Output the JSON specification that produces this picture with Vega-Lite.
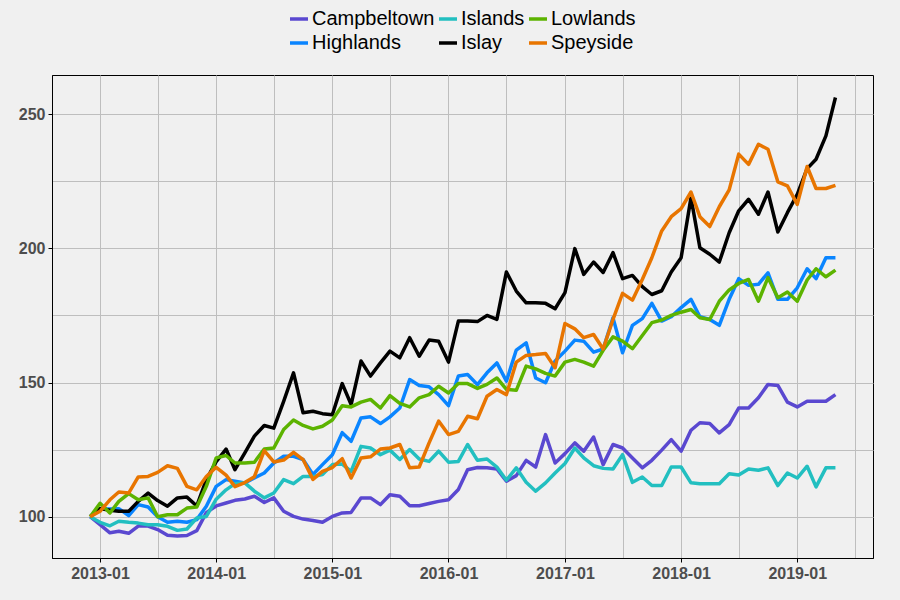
{
"$schema": "https://vega.github.io/schema/vega-lite/v6.json",
"width": 821, "height": 483,
"autosize": "none",
"padding": {"left": 52, "top": 75, "right": 27, "bottom": 42},
"background": "#F0F0F0",
"config": {"view": {"stroke": "black", "strokeWidth": 1, "fill": "#F0F0F0"}, "font": "Liberation Sans"},
"data": {"values": [
{"date":"2012-12","region":"Campbeltown","value":100},{"date":"2013-01","region":"Campbeltown","value":97},{"date":"2013-02","region":"Campbeltown","value":94},{"date":"2013-03","region":"Campbeltown","value":94.6},{"date":"2013-04","region":"Campbeltown","value":93.8},{"date":"2013-05","region":"Campbeltown","value":96.5},{"date":"2013-06","region":"Campbeltown","value":96.5},{"date":"2013-07","region":"Campbeltown","value":95.2},{"date":"2013-08","region":"Campbeltown","value":93.1},{"date":"2013-09","region":"Campbeltown","value":92.8},{"date":"2013-10","region":"Campbeltown","value":93},{"date":"2013-11","region":"Campbeltown","value":94.8},{"date":"2013-12","region":"Campbeltown","value":101.5},
{"date":"2014-01","region":"Campbeltown","value":104},{"date":"2014-02","region":"Campbeltown","value":105.1},{"date":"2014-03","region":"Campbeltown","value":106.1},{"date":"2014-04","region":"Campbeltown","value":106.6},{"date":"2014-05","region":"Campbeltown","value":107.6},{"date":"2014-06","region":"Campbeltown","value":105.3},{"date":"2014-07","region":"Campbeltown","value":107},{"date":"2014-08","region":"Campbeltown","value":102},{"date":"2014-09","region":"Campbeltown","value":100.1},{"date":"2014-10","region":"Campbeltown","value":99.1},{"date":"2014-11","region":"Campbeltown","value":98.6},{"date":"2014-12","region":"Campbeltown","value":97.9},
{"date":"2015-01","region":"Campbeltown","value":100.1},{"date":"2015-02","region":"Campbeltown","value":101.4},{"date":"2015-03","region":"Campbeltown","value":101.6},{"date":"2015-04","region":"Campbeltown","value":107},{"date":"2015-05","region":"Campbeltown","value":107},{"date":"2015-06","region":"Campbeltown","value":104.5},{"date":"2015-07","region":"Campbeltown","value":108.2},{"date":"2015-08","region":"Campbeltown","value":107.6},{"date":"2015-09","region":"Campbeltown","value":104.1},{"date":"2015-10","region":"Campbeltown","value":104.1},{"date":"2015-11","region":"Campbeltown","value":104.9},{"date":"2015-12","region":"Campbeltown","value":105.7},
{"date":"2016-01","region":"Campbeltown","value":106.3},{"date":"2016-02","region":"Campbeltown","value":110.1},{"date":"2016-03","region":"Campbeltown","value":117.5},{"date":"2016-04","region":"Campbeltown","value":118.3},{"date":"2016-05","region":"Campbeltown","value":118.2},{"date":"2016-06","region":"Campbeltown","value":117.8},{"date":"2016-07","region":"Campbeltown","value":113.2},{"date":"2016-08","region":"Campbeltown","value":115.3},{"date":"2016-09","region":"Campbeltown","value":121},{"date":"2016-10","region":"Campbeltown","value":118.5},{"date":"2016-11","region":"Campbeltown","value":130.6},{"date":"2016-12","region":"Campbeltown","value":120},
{"date":"2017-01","region":"Campbeltown","value":123.5},{"date":"2017-02","region":"Campbeltown","value":127.5},{"date":"2017-03","region":"Campbeltown","value":124.4},{"date":"2017-04","region":"Campbeltown","value":129.7},{"date":"2017-05","region":"Campbeltown","value":119.4},{"date":"2017-06","region":"Campbeltown","value":126.9},{"date":"2017-07","region":"Campbeltown","value":125.6},{"date":"2017-08","region":"Campbeltown","value":121.9},{"date":"2017-09","region":"Campbeltown","value":118.2},{"date":"2017-10","region":"Campbeltown","value":121},{"date":"2017-11","region":"Campbeltown","value":124.8},{"date":"2017-12","region":"Campbeltown","value":128.7},
{"date":"2018-01","region":"Campbeltown","value":124.4},{"date":"2018-02","region":"Campbeltown","value":132.2},{"date":"2018-03","region":"Campbeltown","value":135},{"date":"2018-04","region":"Campbeltown","value":134.7},{"date":"2018-05","region":"Campbeltown","value":131.2},{"date":"2018-06","region":"Campbeltown","value":134.3},{"date":"2018-07","region":"Campbeltown","value":140.5},{"date":"2018-08","region":"Campbeltown","value":140.5},{"date":"2018-09","region":"Campbeltown","value":144.3},{"date":"2018-10","region":"Campbeltown","value":149.3},{"date":"2018-11","region":"Campbeltown","value":148.9},{"date":"2018-12","region":"Campbeltown","value":142.7},
{"date":"2019-01","region":"Campbeltown","value":140.9},{"date":"2019-02","region":"Campbeltown","value":143},{"date":"2019-03","region":"Campbeltown","value":143},{"date":"2019-04","region":"Campbeltown","value":143},{"date":"2019-05","region":"Campbeltown","value":145.5},

{"date":"2012-12","region":"Highlands","value":100},{"date":"2013-01","region":"Highlands","value":103},{"date":"2013-02","region":"Highlands","value":102.9},{"date":"2013-03","region":"Highlands","value":103},{"date":"2013-04","region":"Highlands","value":100.4},{"date":"2013-05","region":"Highlands","value":104.5},{"date":"2013-06","region":"Highlands","value":103.6},{"date":"2013-07","region":"Highlands","value":100},{"date":"2013-08","region":"Highlands","value":97.9},{"date":"2013-09","region":"Highlands","value":98.3},{"date":"2013-10","region":"Highlands","value":97.9},{"date":"2013-11","region":"Highlands","value":98.9},{"date":"2013-12","region":"Highlands","value":103.9},
{"date":"2014-01","region":"Highlands","value":111.3},{"date":"2014-02","region":"Highlands","value":113.8},{"date":"2014-03","region":"Highlands","value":113.2},{"date":"2014-04","region":"Highlands","value":112.6},{"date":"2014-05","region":"Highlands","value":114.4},{"date":"2014-06","region":"Highlands","value":116.3},{"date":"2014-07","region":"Highlands","value":120},{"date":"2014-08","region":"Highlands","value":122.5},{"date":"2014-09","region":"Highlands","value":122.5},{"date":"2014-10","region":"Highlands","value":121.3},{"date":"2014-11","region":"Highlands","value":115.7},{"date":"2014-12","region":"Highlands","value":119.4},
{"date":"2015-01","region":"Highlands","value":123.1},{"date":"2015-02","region":"Highlands","value":131.3},{"date":"2015-03","region":"Highlands","value":128.1},{"date":"2015-04","region":"Highlands","value":136.8},{"date":"2015-05","region":"Highlands","value":137.2},{"date":"2015-06","region":"Highlands","value":134.7},{"date":"2015-07","region":"Highlands","value":137.2},{"date":"2015-08","region":"Highlands","value":140.5},{"date":"2015-09","region":"Highlands","value":151.1},{"date":"2015-10","region":"Highlands","value":148.9},{"date":"2015-11","region":"Highlands","value":148.4},{"date":"2015-12","region":"Highlands","value":145.5},
{"date":"2016-01","region":"Highlands","value":141.4},{"date":"2016-02","region":"Highlands","value":152.4},{"date":"2016-03","region":"Highlands","value":153},{"date":"2016-04","region":"Highlands","value":149.2},{"date":"2016-05","region":"Highlands","value":153.6},{"date":"2016-06","region":"Highlands","value":157.3},{"date":"2016-07","region":"Highlands","value":150.5},{"date":"2016-08","region":"Highlands","value":162.1},{"date":"2016-09","region":"Highlands","value":164.8},{"date":"2016-10","region":"Highlands","value":151.7},{"date":"2016-11","region":"Highlands","value":149.9},{"date":"2016-12","region":"Highlands","value":158},
{"date":"2017-01","region":"Highlands","value":161.7},{"date":"2017-02","region":"Highlands","value":165.8},{"date":"2017-03","region":"Highlands","value":165.4},{"date":"2017-04","region":"Highlands","value":161.3},{"date":"2017-05","region":"Highlands","value":162.5},{"date":"2017-06","region":"Highlands","value":174.1},{"date":"2017-07","region":"Highlands","value":161.1},{"date":"2017-08","region":"Highlands","value":171.3},{"date":"2017-09","region":"Highlands","value":173.8},{"date":"2017-10","region":"Highlands","value":179.5},{"date":"2017-11","region":"Highlands","value":172.9},{"date":"2017-12","region":"Highlands","value":174.5},
{"date":"2018-01","region":"Highlands","value":177.9},{"date":"2018-02","region":"Highlands","value":181},{"date":"2018-03","region":"Highlands","value":174.5},{"date":"2018-04","region":"Highlands","value":173.5},{"date":"2018-05","region":"Highlands","value":171.3},{"date":"2018-06","region":"Highlands","value":181},{"date":"2018-07","region":"Highlands","value":188.7},{"date":"2018-08","region":"Highlands","value":186.2},{"date":"2018-09","region":"Highlands","value":186.6},{"date":"2018-10","region":"Highlands","value":190.9},{"date":"2018-11","region":"Highlands","value":181},{"date":"2018-12","region":"Highlands","value":181},
{"date":"2019-01","region":"Highlands","value":185.3},{"date":"2019-02","region":"Highlands","value":192.4},{"date":"2019-03","region":"Highlands","value":188.7},{"date":"2019-04","region":"Highlands","value":196.5},{"date":"2019-05","region":"Highlands","value":196.5},

{"date":"2012-12","region":"Islands","value":100},{"date":"2013-01","region":"Islands","value":97.9},{"date":"2013-02","region":"Islands","value":96.6},{"date":"2013-03","region":"Islands","value":98.3},{"date":"2013-04","region":"Islands","value":97.9},{"date":"2013-05","region":"Islands","value":97.6},{"date":"2013-06","region":"Islands","value":97},{"date":"2013-07","region":"Islands","value":97},{"date":"2013-08","region":"Islands","value":96.4},{"date":"2013-09","region":"Islands","value":94.9},{"date":"2013-10","region":"Islands","value":95.4},{"date":"2013-11","region":"Islands","value":99.5},{"date":"2013-12","region":"Islands","value":100.1},
{"date":"2014-01","region":"Islands","value":106.5},{"date":"2014-02","region":"Islands","value":110},{"date":"2014-03","region":"Islands","value":112.3},{"date":"2014-04","region":"Islands","value":112.6},{"date":"2014-05","region":"Islands","value":109.5},{"date":"2014-06","region":"Islands","value":107},{"date":"2014-07","region":"Islands","value":108.8},{"date":"2014-08","region":"Islands","value":113.8},{"date":"2014-09","region":"Islands","value":112.3},{"date":"2014-10","region":"Islands","value":115},{"date":"2014-11","region":"Islands","value":115},{"date":"2014-12","region":"Islands","value":115.7},
{"date":"2015-01","region":"Islands","value":119.4},{"date":"2015-02","region":"Islands","value":119.6},{"date":"2015-03","region":"Islands","value":116.9},{"date":"2015-04","region":"Islands","value":126.2},{"date":"2015-05","region":"Islands","value":125.6},{"date":"2015-06","region":"Islands","value":123.1},{"date":"2015-07","region":"Islands","value":124.8},{"date":"2015-08","region":"Islands","value":121.3},{"date":"2015-09","region":"Islands","value":125},{"date":"2015-10","region":"Islands","value":121.5},{"date":"2015-11","region":"Islands","value":120.6},{"date":"2015-12","region":"Islands","value":124.4},
{"date":"2016-01","region":"Islands","value":120.3},{"date":"2016-02","region":"Islands","value":120.6},{"date":"2016-03","region":"Islands","value":126.9},{"date":"2016-04","region":"Islands","value":121},{"date":"2016-05","region":"Islands","value":121.5},{"date":"2016-06","region":"Islands","value":118.5},{"date":"2016-07","region":"Islands","value":113.6},{"date":"2016-08","region":"Islands","value":118.2},{"date":"2016-09","region":"Islands","value":112.8},{"date":"2016-10","region":"Islands","value":109.5},{"date":"2016-11","region":"Islands","value":112.6},{"date":"2016-12","region":"Islands","value":116.3},
{"date":"2017-01","region":"Islands","value":119.8},{"date":"2017-02","region":"Islands","value":125.6},{"date":"2017-03","region":"Islands","value":121.9},{"date":"2017-04","region":"Islands","value":119},{"date":"2017-05","region":"Islands","value":118},{"date":"2017-06","region":"Islands","value":117.8},{"date":"2017-07","region":"Islands","value":123.1},{"date":"2017-08","region":"Islands","value":112.8},{"date":"2017-09","region":"Islands","value":114.8},{"date":"2017-10","region":"Islands","value":111.6},{"date":"2017-11","region":"Islands","value":111.6},{"date":"2017-12","region":"Islands","value":118.5},
{"date":"2018-01","region":"Islands","value":118.5},{"date":"2018-02","region":"Islands","value":112.6},{"date":"2018-03","region":"Islands","value":112.3},{"date":"2018-04","region":"Islands","value":112.3},{"date":"2018-05","region":"Islands","value":112.3},{"date":"2018-06","region":"Islands","value":116},{"date":"2018-07","region":"Islands","value":115.5},{"date":"2018-08","region":"Islands","value":117.8},{"date":"2018-09","region":"Islands","value":117.3},{"date":"2018-10","region":"Islands","value":118.2},{"date":"2018-11","region":"Islands","value":111.6},{"date":"2018-12","region":"Islands","value":116.3},
{"date":"2019-01","region":"Islands","value":114.4},{"date":"2019-02","region":"Islands","value":118.8},{"date":"2019-03","region":"Islands","value":111.1},{"date":"2019-04","region":"Islands","value":118.2},{"date":"2019-05","region":"Islands","value":118.2},

{"date":"2012-12","region":"Islay","value":100},{"date":"2013-01","region":"Islay","value":103},{"date":"2013-02","region":"Islay","value":102.4},{"date":"2013-03","region":"Islay","value":102},{"date":"2013-04","region":"Islay","value":102},{"date":"2013-05","region":"Islay","value":105.7},{"date":"2013-06","region":"Islay","value":108.8},{"date":"2013-07","region":"Islay","value":106},{"date":"2013-08","region":"Islay","value":103.9},{"date":"2013-09","region":"Islay","value":107},{"date":"2013-10","region":"Islay","value":107.3},{"date":"2013-11","region":"Islay","value":104},{"date":"2013-12","region":"Islay","value":113.8},
{"date":"2014-01","region":"Islay","value":120.5},{"date":"2014-02","region":"Islay","value":125.2},{"date":"2014-03","region":"Islay","value":117.5},{"date":"2014-04","region":"Islay","value":123.8},{"date":"2014-05","region":"Islay","value":130},{"date":"2014-06","region":"Islay","value":134},{"date":"2014-07","region":"Islay","value":133},{"date":"2014-08","region":"Islay","value":143},{"date":"2014-09","region":"Islay","value":153.6},{"date":"2014-10","region":"Islay","value":138.7},{"date":"2014-11","region":"Islay","value":139.3},{"date":"2014-12","region":"Islay","value":138.4},
{"date":"2015-01","region":"Islay","value":138},{"date":"2015-02","region":"Islay","value":149.6},{"date":"2015-03","region":"Islay","value":141.8},{"date":"2015-04","region":"Islay","value":158},{"date":"2015-05","region":"Islay","value":152.4},{"date":"2015-06","region":"Islay","value":157.3},{"date":"2015-07","region":"Islay","value":161.7},{"date":"2015-08","region":"Islay","value":159.2},{"date":"2015-09","region":"Islay","value":166.7},{"date":"2015-10","region":"Islay","value":159.8},{"date":"2015-11","region":"Islay","value":165.8},{"date":"2015-12","region":"Islay","value":165.4},
{"date":"2016-01","region":"Islay","value":157.6},{"date":"2016-02","region":"Islay","value":172.9},{"date":"2016-03","region":"Islay","value":172.9},{"date":"2016-04","region":"Islay","value":172.7},{"date":"2016-05","region":"Islay","value":175},{"date":"2016-06","region":"Islay","value":173.5},{"date":"2016-07","region":"Islay","value":191.2},{"date":"2016-08","region":"Islay","value":184.1},{"date":"2016-09","region":"Islay","value":179.7},{"date":"2016-10","region":"Islay","value":179.7},{"date":"2016-11","region":"Islay","value":179.5},{"date":"2016-12","region":"Islay","value":177.5},
{"date":"2017-01","region":"Islay","value":183.5},{"date":"2017-02","region":"Islay","value":199.9},{"date":"2017-03","region":"Islay","value":190.3},{"date":"2017-04","region":"Islay","value":194.9},{"date":"2017-05","region":"Islay","value":191},{"date":"2017-06","region":"Islay","value":198.4},{"date":"2017-07","region":"Islay","value":188.7},{"date":"2017-08","region":"Islay","value":189.9},{"date":"2017-09","region":"Islay","value":185.7},{"date":"2017-10","region":"Islay","value":182.8},{"date":"2017-11","region":"Islay","value":184.2},{"date":"2017-12","region":"Islay","value":191.2},
{"date":"2018-01","region":"Islay","value":196.5},{"date":"2018-02","region":"Islay","value":218.9},{"date":"2018-03","region":"Islay","value":200.2},{"date":"2018-04","region":"Islay","value":197.8},{"date":"2018-05","region":"Islay","value":194.9},{"date":"2018-06","region":"Islay","value":205.8},{"date":"2018-07","region":"Islay","value":214},{"date":"2018-08","region":"Islay","value":218.3},{"date":"2018-09","region":"Islay","value":212.7},{"date":"2018-10","region":"Islay","value":221},{"date":"2018-11","region":"Islay","value":206.1},{"date":"2018-12","region":"Islay","value":213.3},
{"date":"2019-01","region":"Islay","value":220.1},{"date":"2019-02","region":"Islay","value":229.7},{"date":"2019-03","region":"Islay","value":233.2},{"date":"2019-04","region":"Islay","value":241.9},{"date":"2019-05","region":"Islay","value":256.2},

{"date":"2012-12","region":"Lowlands","value":100},{"date":"2013-01","region":"Lowlands","value":105},{"date":"2013-02","region":"Lowlands","value":101.4},{"date":"2013-03","region":"Lowlands","value":105.7},{"date":"2013-04","region":"Lowlands","value":108.6},{"date":"2013-05","region":"Lowlands","value":106.3},{"date":"2013-06","region":"Lowlands","value":107},{"date":"2013-07","region":"Lowlands","value":100},{"date":"2013-08","region":"Lowlands","value":100.7},{"date":"2013-09","region":"Lowlands","value":100.7},{"date":"2013-10","region":"Lowlands","value":103.2},{"date":"2013-11","region":"Lowlands","value":103.6},{"date":"2013-12","region":"Lowlands","value":111.3},
{"date":"2014-01","region":"Lowlands","value":121.9},{"date":"2014-02","region":"Lowlands","value":122.8},{"date":"2014-03","region":"Lowlands","value":120},{"date":"2014-04","region":"Lowlands","value":120},{"date":"2014-05","region":"Lowlands","value":120.3},{"date":"2014-06","region":"Lowlands","value":125.2},{"date":"2014-07","region":"Lowlands","value":125.6},{"date":"2014-08","region":"Lowlands","value":132.5},{"date":"2014-09","region":"Lowlands","value":136},{"date":"2014-10","region":"Lowlands","value":134},{"date":"2014-11","region":"Lowlands","value":132.7},{"date":"2014-12","region":"Lowlands","value":133.7},
{"date":"2015-01","region":"Lowlands","value":136},{"date":"2015-02","region":"Lowlands","value":141.3},{"date":"2015-03","region":"Lowlands","value":140.9},{"date":"2015-04","region":"Lowlands","value":142.7},{"date":"2015-05","region":"Lowlands","value":143.7},{"date":"2015-06","region":"Lowlands","value":140.5},{"date":"2015-07","region":"Lowlands","value":145.1},{"date":"2015-08","region":"Lowlands","value":142.2},{"date":"2015-09","region":"Lowlands","value":140.9},{"date":"2015-10","region":"Lowlands","value":144.3},{"date":"2015-11","region":"Lowlands","value":145.5},{"date":"2015-12","region":"Lowlands","value":148.6},
{"date":"2016-01","region":"Lowlands","value":146.1},{"date":"2016-02","region":"Lowlands","value":149.6},{"date":"2016-03","region":"Lowlands","value":149.6},{"date":"2016-04","region":"Lowlands","value":147.8},{"date":"2016-05","region":"Lowlands","value":149.3},{"date":"2016-06","region":"Lowlands","value":151.7},{"date":"2016-07","region":"Lowlands","value":147.4},{"date":"2016-08","region":"Lowlands","value":147.1},{"date":"2016-09","region":"Lowlands","value":156.1},{"date":"2016-10","region":"Lowlands","value":155.1},{"date":"2016-11","region":"Lowlands","value":153.4},{"date":"2016-12","region":"Lowlands","value":152.4},
{"date":"2017-01","region":"Lowlands","value":157.6},{"date":"2017-02","region":"Lowlands","value":158.6},{"date":"2017-03","region":"Lowlands","value":157.6},{"date":"2017-04","region":"Lowlands","value":156.1},{"date":"2017-05","region":"Lowlands","value":162},{"date":"2017-06","region":"Lowlands","value":167},{"date":"2017-07","region":"Lowlands","value":165.4},{"date":"2017-08","region":"Lowlands","value":162.6},{"date":"2017-09","region":"Lowlands","value":167.5},{"date":"2017-10","region":"Lowlands","value":172.3},{"date":"2017-11","region":"Lowlands","value":173.3},{"date":"2017-12","region":"Lowlands","value":175},
{"date":"2018-01","region":"Lowlands","value":176.2},{"date":"2018-02","region":"Lowlands","value":177.2},{"date":"2018-03","region":"Lowlands","value":174.1},{"date":"2018-04","region":"Lowlands","value":173.5},{"date":"2018-05","region":"Lowlands","value":180.3},{"date":"2018-06","region":"Lowlands","value":184.5},{"date":"2018-07","region":"Lowlands","value":186.9},{"date":"2018-08","region":"Lowlands","value":188.4},{"date":"2018-09","region":"Lowlands","value":180.3},{"date":"2018-10","region":"Lowlands","value":189.1},{"date":"2018-11","region":"Lowlands","value":181.6},{"date":"2018-12","region":"Lowlands","value":183.7},
{"date":"2019-01","region":"Lowlands","value":180.3},{"date":"2019-02","region":"Lowlands","value":188.2},{"date":"2019-03","region":"Lowlands","value":192.4},{"date":"2019-04","region":"Lowlands","value":189.4},{"date":"2019-05","region":"Lowlands","value":191.9},

{"date":"2012-12","region":"Speyside","value":100},{"date":"2013-01","region":"Speyside","value":102},{"date":"2013-02","region":"Speyside","value":106.3},{"date":"2013-03","region":"Speyside","value":109.2},{"date":"2013-04","region":"Speyside","value":108.8},{"date":"2013-05","region":"Speyside","value":114.8},{"date":"2013-06","region":"Speyside","value":115},{"date":"2013-07","region":"Speyside","value":116.5},{"date":"2013-08","region":"Speyside","value":119},{"date":"2013-09","region":"Speyside","value":118},{"date":"2013-10","region":"Speyside","value":111.3},{"date":"2013-11","region":"Speyside","value":110},{"date":"2013-12","region":"Speyside","value":115},
{"date":"2014-01","region":"Speyside","value":118.4},{"date":"2014-02","region":"Speyside","value":115.5},{"date":"2014-03","region":"Speyside","value":111.2},{"date":"2014-04","region":"Speyside","value":112.7},{"date":"2014-05","region":"Speyside","value":114.9},{"date":"2014-06","region":"Speyside","value":124.6},{"date":"2014-07","region":"Speyside","value":120.4},{"date":"2014-08","region":"Speyside","value":121.1},{"date":"2014-09","region":"Speyside","value":124},{"date":"2014-10","region":"Speyside","value":121.3},{"date":"2014-11","region":"Speyside","value":113.9},{"date":"2014-12","region":"Speyside","value":116.9},
{"date":"2015-01","region":"Speyside","value":118.3},{"date":"2015-02","region":"Speyside","value":121.6},{"date":"2015-03","region":"Speyside","value":114.4},{"date":"2015-04","region":"Speyside","value":121.9},{"date":"2015-05","region":"Speyside","value":122.3},{"date":"2015-06","region":"Speyside","value":125.2},{"date":"2015-07","region":"Speyside","value":125.6},{"date":"2015-08","region":"Speyside","value":126.9},{"date":"2015-09","region":"Speyside","value":118.2},{"date":"2015-10","region":"Speyside","value":118.5},{"date":"2015-11","region":"Speyside","value":127.5},{"date":"2015-12","region":"Speyside","value":135.6},
{"date":"2016-01","region":"Speyside","value":130.6},{"date":"2016-02","region":"Speyside","value":131.8},{"date":"2016-03","region":"Speyside","value":137.4},{"date":"2016-04","region":"Speyside","value":136.5},{"date":"2016-05","region":"Speyside","value":144.9},{"date":"2016-06","region":"Speyside","value":147.4},{"date":"2016-07","region":"Speyside","value":145.5},{"date":"2016-08","region":"Speyside","value":157.6},{"date":"2016-09","region":"Speyside","value":160.1},{"date":"2016-10","region":"Speyside","value":160.4},{"date":"2016-11","region":"Speyside","value":160.8},{"date":"2016-12","region":"Speyside","value":155.5},
{"date":"2017-01","region":"Speyside","value":172},{"date":"2017-02","region":"Speyside","value":170},{"date":"2017-03","region":"Speyside","value":166.7},{"date":"2017-04","region":"Speyside","value":167.9},{"date":"2017-05","region":"Speyside","value":162.5},{"date":"2017-06","region":"Speyside","value":173.5},{"date":"2017-07","region":"Speyside","value":183.2},{"date":"2017-08","region":"Speyside","value":180.7},{"date":"2017-09","region":"Speyside","value":188.4},{"date":"2017-10","region":"Speyside","value":196.5},{"date":"2017-11","region":"Speyside","value":206.5},{"date":"2017-12","region":"Speyside","value":211.8},
{"date":"2018-01","region":"Speyside","value":214.8},{"date":"2018-02","region":"Speyside","value":221},{"date":"2018-03","region":"Speyside","value":211.8},{"date":"2018-04","region":"Speyside","value":208.1},{"date":"2018-05","region":"Speyside","value":215.5},{"date":"2018-06","region":"Speyside","value":221.8},{"date":"2018-07","region":"Speyside","value":235.1},{"date":"2018-08","region":"Speyside","value":231.3},{"date":"2018-09","region":"Speyside","value":238.8},{"date":"2018-10","region":"Speyside","value":236.9},{"date":"2018-11","region":"Speyside","value":224.8},{"date":"2018-12","region":"Speyside","value":223.3},
{"date":"2019-01","region":"Speyside","value":216.4},{"date":"2019-02","region":"Speyside","value":230.5},{"date":"2019-03","region":"Speyside","value":222.3},{"date":"2019-04","region":"Speyside","value":222.3},{"date":"2019-05","region":"Speyside","value":223.5}
]},
"mark": {"type": "line", "strokeWidth": 3.5, "strokeJoin": "round"},
"encoding": {
  "x": {"field": "date", "type": "temporal",
    "scale": {"type": "utc", "domain": [{"year": 2012, "month": 8, "date": 3, "utc": true}, {"year": 2019, "month": 8, "date": 27, "utc": true}]},
    "axis": {"title": null,
      "values": [{"year":2013,"month":1,"date":1,"utc":true},{"year":2013,"month":7,"date":1,"utc":true},{"year":2014,"month":1,"date":1,"utc":true},{"year":2014,"month":7,"date":1,"utc":true},{"year":2015,"month":1,"date":1,"utc":true},{"year":2015,"month":7,"date":1,"utc":true},{"year":2016,"month":1,"date":1,"utc":true},{"year":2016,"month":7,"date":1,"utc":true},{"year":2017,"month":1,"date":1,"utc":true},{"year":2017,"month":7,"date":1,"utc":true},{"year":2018,"month":1,"date":1,"utc":true},{"year":2018,"month":7,"date":1,"utc":true},{"year":2019,"month":1,"date":1,"utc":true},{"year":2019,"month":7,"date":1,"utc":true}],
      "labelExpr": "utcmonth(datum.value) == 6 ? '' : utcFormat(datum.value, '%Y-%m')",
      "labelOverlap": false, "labelFlush": false,
      "grid": true, "gridColor": "#BEBEBE", "gridWidth": 1,
      "domainColor": "black", "tickColor": "black", "tickSize": 4, "tickWidth": 1,
      "tickOpacity": {"condition": {"test": "utcmonth(datum.value) == 6", "value": 0}, "value": 1},
      "labelFont": "Liberation Sans", "labelFontWeight": "bold", "labelFontSize": 16, "labelColor": "#4D4D4D", "labelPadding": 3}},
  "y": {"field": "value", "type": "quantitative",
    "scale": {"domain": [84.6, 264.6], "nice": false, "zero": false},
    "axis": {"title": null, "values": [100, 125, 150, 175, 200, 225, 250],
      "labelExpr": "datum.value % 50 == 0 ? datum.label : ''",
      "grid": true, "gridColor": "#BEBEBE", "gridWidth": 1,
      "domainColor": "black", "tickColor": "black", "tickSize": 4, "tickWidth": 1,
      "tickOpacity": {"condition": {"test": "datum.value % 50 != 0", "value": 0}, "value": 1},
      "labelFont": "Liberation Sans", "labelFontWeight": "bold", "labelFontSize": 16, "labelColor": "#4D4D4D", "labelPadding": 3}},
  "color": {"field": "region", "type": "nominal",
    "scale": {"domain": ["Campbeltown", "Islands", "Lowlands", "Highlands", "Islay", "Speyside"],
              "range": ["#5A48D0", "#22BFC0", "#5CB300", "#0A85FF", "#000000", "#E87500"]},
    "legend": {"title": null, "orient": "none", "legendX": 236, "legendY": -67, "direction": "horizontal", "columns": 3,
      "symbolType": "stroke", "symbolSize": 324, "symbolStrokeWidth": 3.5, "labelFontSize": 20, "labelFont": "Liberation Sans",
      "labelColor": "black", "columnPadding": -3, "rowPadding": 3, "labelOffset": 2, "padding": 0, "labelLimit": 300}}
}
}
